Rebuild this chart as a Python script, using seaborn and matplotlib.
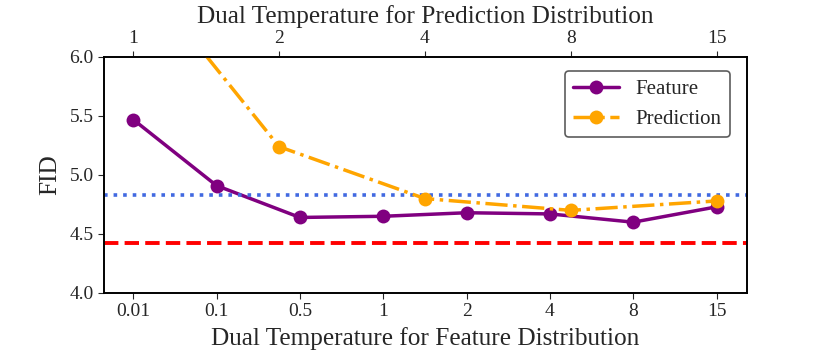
import numpy as np
import pandas as pd
import matplotlib
matplotlib.use("Agg")
import matplotlib.pyplot as plt
import seaborn as sns

# ── Data ──────────────────────────────────────────────────────────────────────
feature_temps = ["0.01", "0.1", "0.5", "1", "2", "4", "8", "15"]
feature_fid = [5.47, 4.91, 4.64, 4.65, 4.68, 4.67, 4.60, 4.73]

prediction_temps = ["1", "2", "4", "8", "15"]
prediction_fid = [6.78, 5.24, 4.80, 4.70, 4.78]

baseline_blue = 4.83
baseline_red = 4.42

y_ticks = [4.0, 4.5, 5.0, 5.5, 6.0]

# ── Style ─────────────────────────────────────────────────────────────────────
sns.set_style("ticks")
plt.rcParams["font.family"] = ["Liberation Serif", "DejaVu Serif"]

fig = plt.figure(figsize=(8.3, 3.56), dpi=100)
ax = fig.add_axes([0.1253, 0.177, 0.7743, 0.663])

feat_df = pd.DataFrame({"pos": np.arange(len(feature_temps)), "fid": feature_fid})
pred_pos = np.linspace(0, len(feature_temps) - 1, len(prediction_temps))
pred_df = pd.DataFrame({"pos": pred_pos, "fid": prediction_fid})

sns.lineplot(data=feat_df, x="pos", y="fid", ax=ax, color="purple",
             marker="o", markersize=10, markeredgewidth=0, linewidth=2.5,
             label="Feature", legend=False)

ax.axhline(baseline_blue, color="royalblue", linestyle=":", linewidth=2.6)
ax.axhline(baseline_red, color="red", linestyle="--", linewidth=2.8)

xlim = (-0.35, 7.36)
ax.set_xlim(*xlim)
ax.set_ylim(4.0, 6.0)
ax.set_xticks(np.arange(len(feature_temps)))
ax.set_xticklabels(feature_temps)
ax.set_yticks(y_ticks)
ax.set_yticklabels([f"{v:.1f}" for v in y_ticks])
ax.set_xlabel("Dual Temperature for Feature Distribution", fontsize=18.2, labelpad=5)
ax.set_ylabel("FID", fontsize=18.2, labelpad=6)
ax.tick_params(labelsize=14, length=4)

# top axis for prediction temperature
ax2 = ax.twiny()
sns.lineplot(data=pred_df, x="pos", y="fid", ax=ax2, color="orange",
             marker="o", markersize=10, markeredgewidth=0, linewidth=2.5,
             linestyle="-.", label="Prediction", legend=False)
ax2.set_xlim(*xlim)
ax2.set_ylim(4.0, 6.0)
ax2.set_xticks(pred_pos)
ax2.set_xticklabels(prediction_temps)
ax2.set_xlabel("Dual Temperature for Prediction Distribution", fontsize=18.2, labelpad=5)
ax2.tick_params(labelsize=14, length=4)

for a in (ax, ax2):
    for s in a.spines.values():
        s.set_linewidth(1.2)
        s.set_color("black")

h1, l1 = ax.get_legend_handles_labels()
h2, l2 = ax2.get_legend_handles_labels()
leg = ax2.legend(h1 + h2, l1 + l2, loc="upper right", fontsize=15,
                 frameon=True, edgecolor="#333333", fancybox=True,
                 bbox_to_anchor=(0.99, 0.985), borderpad=0.4, handlelength=2.2)
leg.get_frame().set_linewidth(1.2)

fig.savefig("out.png", dpi=100)
